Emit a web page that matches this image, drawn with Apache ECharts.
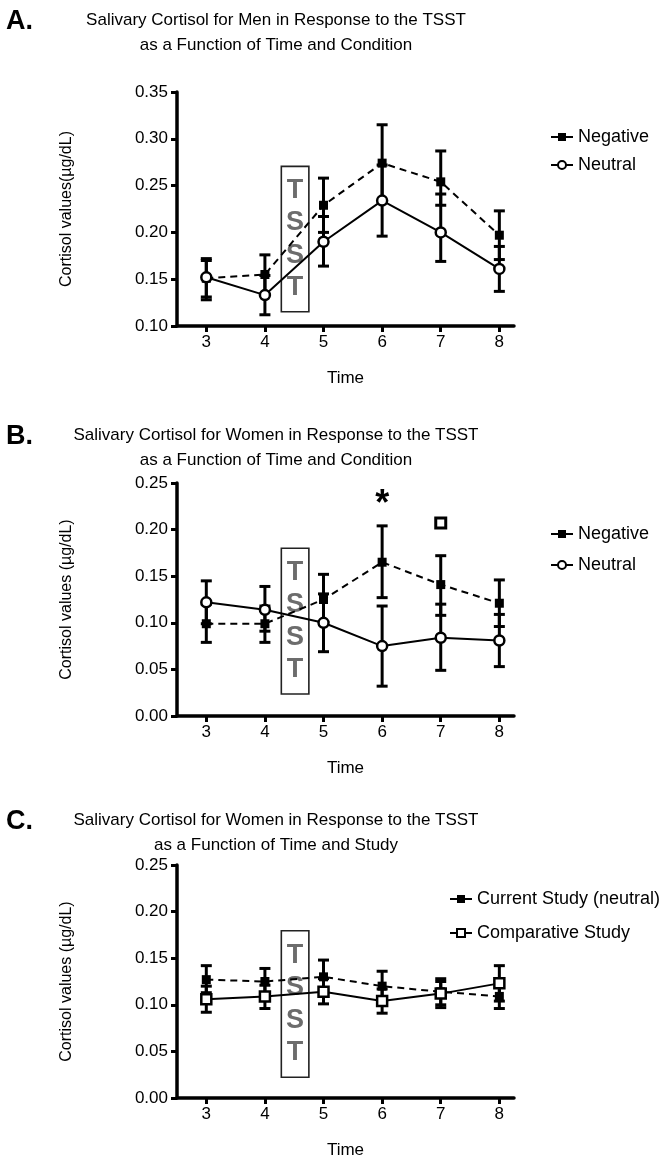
<!DOCTYPE html>
<html><head><meta charset="utf-8">
<script src="https://cdn.jsdelivr.net/npm/echarts@6/dist/echarts.min.js"></script>
<style>html,body{margin:0;padding:0;background:#fff}#c{width:672px;height:1162px}</style>
</head><body><div id="c"></div>
<script>
// ---------- data ----------
const times = [3, 4, 5, 6, 7, 8];
const xTicks = [3, 4, 5, 6, 7, 8];

// Panel A (men)
const negA   = [0.151, 0.155, 0.229, 0.274, 0.254, 0.197];
const negAHi = [0.170, 0.176, 0.258, 0.315, 0.287, 0.223];
const negALo = [0.131, 0.134, 0.200, 0.233, 0.229, 0.171];
const neuA   = [0.152, 0.133, 0.190, 0.234, 0.200, 0.161];
const neuAHi = [0.172, 0.154, 0.217, 0.272, 0.241, 0.185];
const neuALo = [0.128, 0.112, 0.164, 0.196, 0.169, 0.137];

// Panel B (women)
const negB   = [0.099, 0.099, 0.125, 0.165, 0.141, 0.121];
const negBHi = [0.120, 0.118, 0.152, 0.204, 0.172, 0.146];
const negBLo = [0.079, 0.079, 0.098, 0.127, 0.108, 0.096];
const neuB   = [0.122, 0.114, 0.100, 0.075, 0.084, 0.081];
const neuBHi = [0.145, 0.139, 0.131, 0.118, 0.120, 0.109];
const neuBLo = [0.099, 0.091, 0.069, 0.032, 0.049, 0.053];
const starPointsB = [[6, 0.226]];
const squarePointsB = [[7, 0.207]];

// Panel C (women, study comparison)
const curC    = [0.127, 0.125, 0.130, 0.120, 0.114, 0.109];
const curCHi  = [0.142, 0.139, 0.148, 0.136, 0.128, 0.122];
const curCLo  = [0.113, 0.111, 0.112, 0.105, 0.100, 0.096];
const compC   = [0.106, 0.109, 0.114, 0.104, 0.112, 0.123];
const compCHi = [0.120, 0.121, 0.128, 0.117, 0.125, 0.142];
const compCLo = [0.092, 0.096, 0.101, 0.091, 0.097, 0.104];

// TSST box extents (data coords)
const tsstX = [4.28, 4.75];
const tsstYA = [0.1152, 0.2705];
const tsstYB = [0.0236, 0.180];
const tsstYC = [0.0222, 0.1795];

// ---------- helpers ----------
const FONT = '"Liberation Sans", Arial, sans-serif';
const pts = v => times.map((t, i) => [t, v[i]]);
const bars = (lo, hi) => times.map((t, i) => [t, lo[i], hi[i]]);

function errSeries(idx, lo, hi) {
  return {
    type: 'custom', xAxisIndex: idx, yAxisIndex: idx, data: bars(lo, hi), z: 2, silent: true,
    encode: { x: 0, y: [1, 2] },
    renderItem(params, api) {
      const x = api.value(0);
      const a = api.coord([x, api.value(1)]);
      const b = api.coord([x, api.value(2)]);
      const hw = 5.5, st = { stroke: '#000', lineWidth: 3 };
      return { type: 'group', children: [
        { type: 'line', shape: { x1: a[0], y1: a[1], x2: b[0], y2: b[1] }, style: st },
        { type: 'line', shape: { x1: a[0] - hw, y1: a[1], x2: a[0] + hw, y2: a[1] }, style: st },
        { type: 'line', shape: { x1: b[0] - hw, y1: b[1], x2: b[0] + hw, y2: b[1] }, style: st }
      ]};
    }
  };
}
function tsstArea(ys) {
  return {
    silent: true,
    itemStyle: { color: 'rgba(0,0,0,0)', borderColor: '#222', borderWidth: 1.6 },
    label: { show: true, position: 'inside', formatter: 'T\nS\nS\nT', fontSize: 27, fontWeight: 'bold',
             color: '#6c6c6c', lineHeight: 32.5, fontFamily: FONT },
    data: [[{ xAxis: tsstX[0], yAxis: ys[0] }, { xAxis: tsstX[1], yAxis: ys[1] }]]
  };
}
function dashedLine(idx, name, vals, area) {
  const s = { type: 'line', name, xAxisIndex: idx, yAxisIndex: idx, data: pts(vals), z: 4,
    symbol: 'rect', symbolSize: 9, itemStyle: { color: '#000' },
    lineStyle: { color: '#000', width: 2, type: [7, 5] } };
  if (area) s.markArea = area;
  return s;
}
function solidLine(idx, name, vals, symbol) {
  return { type: 'line', name, xAxisIndex: idx, yAxisIndex: idx, data: pts(vals), z: 5,
    symbol, symbolSize: 10, itemStyle: { color: '#fff', borderColor: '#000', borderWidth: 2.5 },
    lineStyle: { color: '#000', width: 2 } };
}
function xAxis(idx) {
  return { type: 'value', gridIndex: idx, min: 2.5, max: 8.25,
    name: 'Time', nameLocation: 'middle', nameGap: 44,
    nameTextStyle: { fontSize: 17, color: '#000', fontFamily: FONT },
    axisLine: { onZero: false, lineStyle: { color: '#000', width: 3.5 } },
    axisTick: { customValues: xTicks, length: 6, lineStyle: { color: '#000', width: 3 } },
    axisLabel: { customValues: xTicks, fontSize: 17, color: '#000', margin: 8, fontFamily: FONT },
    splitLine: { show: false } };
}
function yAxis(idx, min, max, name) {
  return { type: 'value', gridIndex: idx, min, max, interval: 0.05,
    name, nameLocation: 'middle', nameRotate: 90, nameGap: 102,
    nameTextStyle: { fontSize: 16, color: '#000', fontFamily: FONT },
    axisLine: { show: true, onZero: false, lineStyle: { color: '#000', width: 3.5 } },
    axisTick: { show: true, length: 6, lineStyle: { color: '#000', width: 3 } },
    axisLabel: { fontSize: 17, color: '#000', margin: 9, fontFamily: FONT, formatter: v => v.toFixed(2) },
    splitLine: { show: false } };
}
const legendBase = { orient: 'vertical', itemWidth: 22, itemHeight: 10, selectedMode: false,
  textStyle: { fontSize: 18, color: '#000', fontFamily: FONT }, lineStyle: { type: 'solid', width: 2 } };

function titleText(x, y, lines) {
  return { type: 'text', x, y, style: { text: lines, textAlign: 'center', textVerticalAlign: 'top',
    font: '17px ' + FONT, fill: '#000', lineHeight: 25 } };
}
function panelLetter(x, y, t) {
  return { type: 'text', x, y, style: { text: t, textAlign: 'left', textVerticalAlign: 'top',
    font: 'bold 27px ' + FONT, fill: '#000' } };
}

const option = {
  backgroundColor: '#fff',
  animation: false,
  grid: [
    { left: 177, top: 92, width: 337, height: 234 },
    { left: 177, top: 483, width: 337, height: 233 },
    { left: 177, top: 865, width: 337, height: 233 }
  ],
  xAxis: [xAxis(0), xAxis(1), xAxis(2)],
  yAxis: [
    yAxis(0, 0.10, 0.35, 'Cortisol values(\u00b5g/dL)'),
    yAxis(1, 0, 0.25, 'Cortisol values (\u00b5g/dL)'),
    yAxis(2, 0, 0.25, 'Cortisol values (\u00b5g/dL)')
  ],
  legend: [
    Object.assign({}, legendBase, { data: ['Negative', 'Neutral'], left: 545, top: 123, itemGap: 10 }),
    Object.assign({}, legendBase, { data: ['Negative', 'Neutral'], left: 545, top: 520, itemGap: 13 }),
    Object.assign({}, legendBase, { data: ['Current Study (neutral)', 'Comparative Study'], left: 444, top: 885, itemGap: 16 })
  ],
  graphic: [
    panelLetter(6, 8, 'A.'),
    titleText(276, 8, 'Salivary Cortisol for Men in Response to the TSST\nas a Function of Time and Condition'),
    panelLetter(6, 423, 'B.'),
    titleText(276, 423, 'Salivary Cortisol for Women in Response to the TSST\nas a Function of Time and Condition'),
    panelLetter(6, 808, 'C.'),
    titleText(276, 808, 'Salivary Cortisol for Women in Response to the TSST\nas a Function of Time and Study')
  ],
  series: [
    errSeries(0, negALo, negAHi), errSeries(0, neuALo, neuAHi),
    dashedLine(0, 'Negative', negA, tsstArea(tsstYA)),
    solidLine(0, 'Neutral', neuA, 'circle'),

    errSeries(1, negBLo, negBHi), errSeries(1, neuBLo, neuBHi),
    dashedLine(1, 'Negative', negB, tsstArea(tsstYB)),
    solidLine(1, 'Neutral', neuB, 'circle'),
    { type: 'scatter', xAxisIndex: 1, yAxisIndex: 1, data: starPointsB, symbolSize: 2, silent: true,
      itemStyle: { color: 'rgba(0,0,0,0)', opacity: 1 },
      label: { show: true, position: 'inside', formatter: '*', fontSize: 36, fontWeight: 'bold', color: '#000', fontFamily: FONT } },
    { type: 'scatter', xAxisIndex: 1, yAxisIndex: 1, data: squarePointsB, symbol: 'rect', symbolSize: 10, silent: true,
      itemStyle: { color: '#fff', borderColor: '#000', borderWidth: 3, opacity: 1 } },

    errSeries(2, curCLo, curCHi), errSeries(2, compCLo, compCHi),
    dashedLine(2, 'Current Study (neutral)', curC, tsstArea(tsstYC)),
    solidLine(2, 'Comparative Study', compC, 'rect')
  ]
};
const chart = echarts.init(document.getElementById('c'), null, { renderer: 'canvas' });
chart.setOption(option);
</script>
</body></html>
